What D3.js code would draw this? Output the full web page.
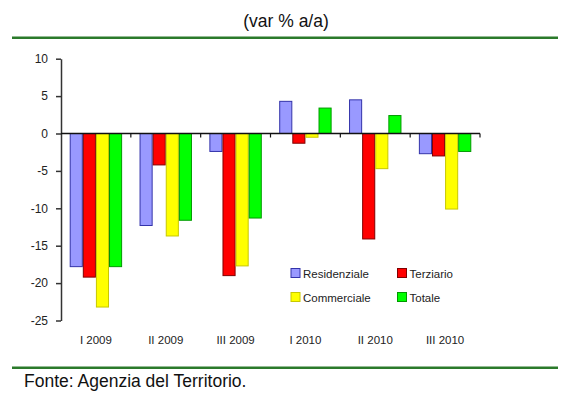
<!DOCTYPE html>
<html>
<head>
<meta charset="utf-8">
<script src="https://cdn.jsdelivr.net/npm/d3@7"></script>
<style>
  body { margin: 0; background: #fff; }
  svg { display: block; font-family: "Liberation Sans", Arial, sans-serif; }
</style>
</head>
<body>
<div id="chart"></div>
<script>
// chart values
var categories = ["I 2009", "II 2009", "III 2009", "I 2010", "II 2010", "III 2010"];
var seriesNames = ["Residenziale", "Terziario", "Commerciale", "Totale"];
var residenziale = [-17.8, -12.3, -2.4, 4.3, 4.5, -2.7];
var terziario = [-19.2, -4.2, -19.0, -1.3, -14.1, -3.0];
var commerciale = [-23.2, -13.7, -17.7, -0.5, -4.7, -10.1];
var totale = [-17.8, -11.6, -11.3, 3.4, 2.4, -2.4];
var yTicks = [10, 5, 0, -5, -10, -15, -20, -25];

(function () {
    'use strict';
    var width = 571,
        height = 407,
        fills = ["#9999ff", "#ff0000", "#ffff00", "#00ff00"],
        strokes = ["#3333aa", "#800000", "#c8c800", "#009900"],
        values = [residenziale, terziario, commerciale, totale],
        svg = d3.select("#chart").append("svg")
            .attr("width", width)
            .attr("height", height);

    svg.append("rect").attr("width", width).attr("height", height).attr("fill", "#fff");

    svg.append("text")
        .attr("x", 286)
        .attr("y", 27)
        .attr("text-anchor", "middle")
        .style("font-size", "17.5px")
        .style("fill", "#111")
        .text("(var % a/a)");

    [37.7, 367.7].forEach(function (y) {
        svg.append("line")
            .attr("x1", 12).attr("x2", 558)
            .attr("y1", y).attr("y2", y)
            .style("stroke", "#2b7a2b")
            .style("stroke-width", 2.5);
    });

    svg.append("text")
        .attr("x", 24)
        .attr("y", 386.5)
        .style("font-size", "17.5px")
        .style("fill", "#111")
        .text("Fonte: Agenzia del Territorio.");

    var x = d3.scaleBand().domain(categories).range([61, 480]),
        xs = d3.scaleBand().domain(seriesNames).range([0, x.bandwidth()]).paddingOuter(0.665),
        y = d3.scaleLinear().domain([-25, 10]).range([320.5, 58.7]);

    var rows = categories.map(function (c, i) {
        return seriesNames.map(function (s, j) {
            return {cat: c, key: s, idx: j, value: values[j][i]};
        });
    });

    var groups = svg.selectAll("g.cat")
        .data(rows)
        .enter().append("g")
        .attr("class", "cat")
        .attr("transform", function (d, i) { return "translate(" + x(categories[i]) + ",0)"; });

    groups.selectAll("rect")
        .data(function (d) { return d; })
        .enter().append("rect")
        .attr("x", function (d) { return xs(d.key) + 0.5; })
        .attr("width", xs.bandwidth() - 1)
        .attr("y", function (d) { return Math.min(y(d.value), y(0)); })
        .attr("height", function (d) { return Math.abs(y(d.value) - y(0)); })
        .style("fill", function (d) { return fills[d.idx]; })
        .style("stroke", function (d) { return strokes[d.idx]; })
        .style("stroke-width", 1);

    // y axis, plain hyphen for negatives
    var yAxis = svg.append("g")
        .attr("transform", "translate(61,0)")
        .call(d3.axisLeft(y).tickValues(yTicks).tickFormat(function (d) { return String(d); })
            .tickSize(5).tickPadding(8).tickSizeOuter(0));
    yAxis.select(".domain").style("stroke", "#333").style("stroke-width", 1.5);
    yAxis.selectAll(".tick line").style("stroke", "#333").style("stroke-width", 1.5);
    yAxis.selectAll("text")
        .style("font-family", "'Liberation Sans', Arial, sans-serif")
        .style("font-size", "12px")
        .style("fill", "#222");

    // x axis on zero line
    var xAxis = svg.append("g")
        .attr("transform", "translate(0," + y(0) + ")");
    xAxis.append("line")
        .attr("x1", 61).attr("x2", 480)
        .attr("y1", 0).attr("y2", 0)
        .style("stroke", "#111").style("stroke-width", 1.5);
    xAxis.selectAll("line.tick")
        .data(categories.slice(1).concat(["end"]))
        .enter().append("line")
        .attr("class", "tick")
        .attr("x1", function (d) { return d === "end" ? 480 : x(d); })
        .attr("x2", function (d) { return d === "end" ? 480 : x(d); })
        .attr("y1", 0).attr("y2", 4)
        .style("stroke", "#111").style("stroke-width", 1.2);

    svg.append("g")
        .attr("transform", "translate(0,332)")
        .call(d3.axisBottom(x).tickSize(0).tickPadding(0))
        .call(function (g) { g.select(".domain").remove(); })
        .selectAll("text")
        .attr("dy", "1em")
        .style("font-family", "'Liberation Sans', Arial, sans-serif")
        .style("font-size", "11.5px")
        .style("fill", "#222");

    // legend
    var legendPos = [[291, 268.5], [397.5, 268.5], [291, 292.5], [397.5, 292.5]];
    var legend = svg.selectAll("g.legend")
        .data(seriesNames)
        .enter().append("g")
        .attr("class", "legend")
        .attr("transform", function (d, i) { return "translate(" + legendPos[i][0] + "," + legendPos[i][1] + ")"; });
    legend.append("rect")
        .attr("width", 9).attr("height", 9)
        .style("fill", function (d, i) { return fills[i]; })
        .style("stroke", function (d, i) { return strokes[i]; });
    legend.append("text")
        .attr("x", 12)
        .attr("y", 9.5)
        .style("font-size", "11.5px")
        .style("fill", "#222")
        .text(function (d) { return d; });
}());
</script>
</body>
</html>
